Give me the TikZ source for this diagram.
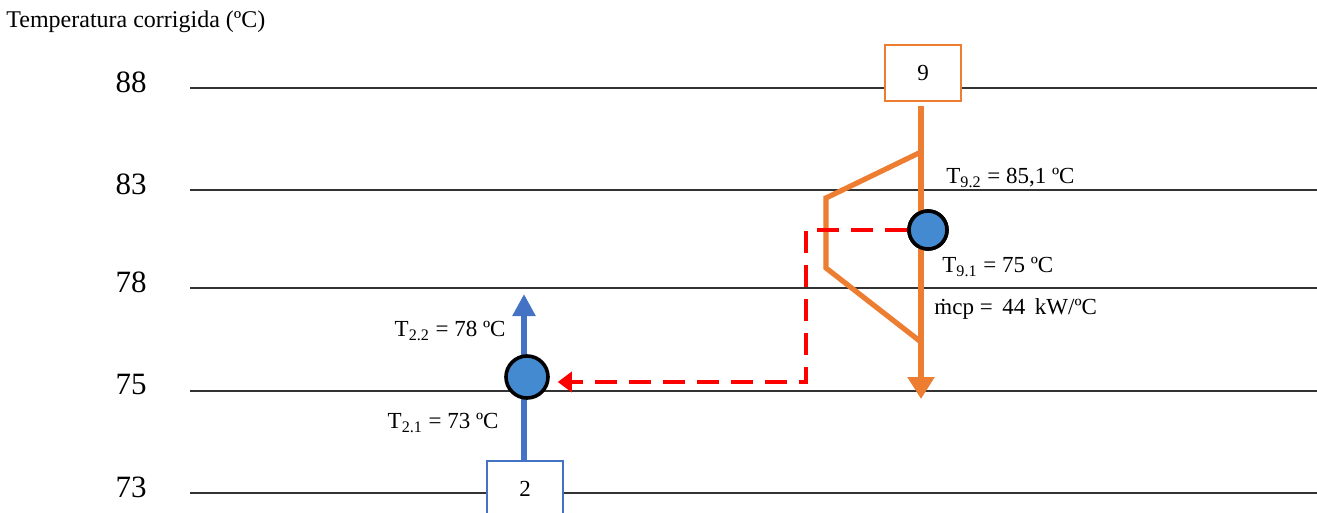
\documentclass[tikz,border=0pt]{standalone}
\usepackage{fontspec}
\setmainfont{Liberation Serif}
\usetikzlibrary{positioning,arrows.meta}
\definecolor{hotorange}{RGB}{237,125,49}
\definecolor{coldblue}{RGB}{68,114,196}
\definecolor{dotblue}{RGB}{68,138,208}
\begin{document}
\begin{tikzpicture}[
  x=0.5pt, y=-0.5pt,
  font=\fontsize{11.5}{13}\selectfont,
  grid/.style={draw=black!80, line width=0.6pt},
  tick/.style={font=\fontsize{15.5}{18}\selectfont, inner sep=0pt},
  lbl/.style={inner sep=0pt},
  streambox/.style={draw, fill=white, line width=1pt, minimum width=38pt, minimum height=28pt, inner sep=0pt},
  hx/.style={circle, draw=black, line width=1.8pt, fill=dotblue, inner sep=0pt},
  hot/.style={hotorange, line width=3pt},
  cold/.style={coldblue, line width=3pt},
  link/.style={red, line width=2.2pt, dash pattern=on 11pt off 6pt}
]
\useasboundingbox (0,0) rectangle (1317,513);
\clip (0,0) rectangle (1317,513);
% eixo
\node[lbl, anchor=west, font=\fontsize{12}{14}\selectfont] (title) at (6,22) {Temperatura corrigida (ºC)};
\foreach \t/\y in {88/88, 83/190, 78/288, 75/391, 73/493} {
  \node[tick] (t\t) at (131,\y-6) {\t};
  \draw[grid] (190,\y) -- (1317,\y);
}
% corrente 9 (quente)
\node[streambox, draw=hotorange] (box9) at (923,73) {9};
\node[hx, minimum size=19pt] (hx9) at (928,230) {};
\coordinate (end9) at (921,399);
\draw[hot, -{Triangle[width=13pt,length=11pt]}] ([yshift=-2pt]box9.south -| end9) -- (end9);
\draw[hot, line width=2.6pt] (921,152) -- (826,198) -- (826,268) -- (921,342);
\node[hx, minimum size=19pt] at (hx9) {};
% corrente 2 (fria)
\node[streambox, draw=coldblue] (box2) at (525,489) {2};
\coordinate (end2) at (524,294);
\draw[cold, -{Triangle[width=11pt,length=11pt]}] (box2.north -| end2) -- (end2);
\node[hx, minimum size=21pt] (hx2) at (527,377) {};
% ligacao
\coordinate (bend) at (806,382);
\draw[link, -{Triangle[width=10pt,length=7pt]}] (hx9.west) -| (bend) -- ([xshift=4pt]hx2.east |- bend);
% textos
\node[lbl, anchor=west] (t92) at (946,178) {T\textsubscript{9.2} = 85,1 ºC};
\node[lbl, anchor=west] (t91) at (942,267) {T\textsubscript{9.1} = 75 ºC};
\node[lbl, anchor=west] (mcp) at (934,309) {ṁcp = \,44\, kW/ºC};
\node[lbl, anchor=east] (t22) at (506,331) {T\textsubscript{2.2} = 78 ºC};
\node[lbl, anchor=east] (t21) at (499,423) {T\textsubscript{2.1} = 73 ºC};
\end{tikzpicture}
\end{document}
